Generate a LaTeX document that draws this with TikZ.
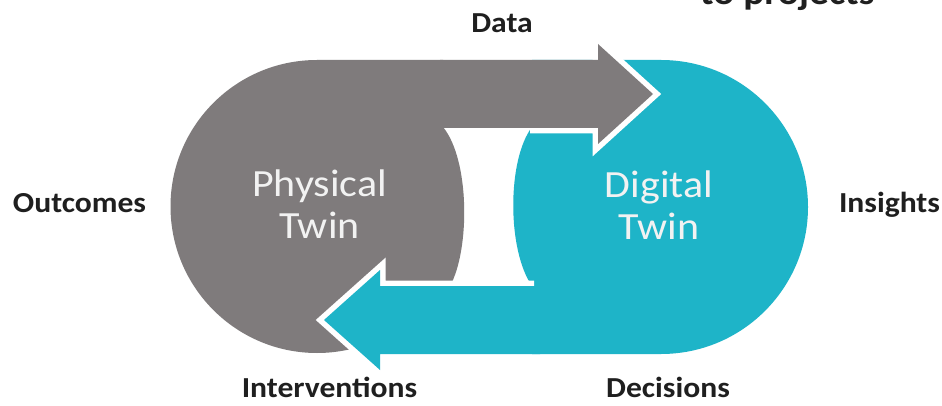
\documentclass[tikz,border=0pt]{standalone}
\usepackage{fontspec}
\setmainfont{Carlito}[FakeStretch=1.09]
\usetikzlibrary{positioning}
\definecolor{twingray}{RGB}{127,123,124}
\definecolor{twinteal}{RGB}{30,180,200}
\definecolor{twintext}{RGB}{242,242,242}

\begin{document}
\begin{tikzpicture}[x=1pt, y=-1pt,
  lbl/.style={font=\fontsize{29}{32}\selectfont\bfseries, text=black!88, inner sep=0pt, anchor=base},
  twin/.style={font=\fontsize{38.5}{42}\selectfont, text=twintext, align=center, inner sep=0pt},
  rim/.style={draw=white, line width=11pt, line join=miter}]
\useasboundingbox (0,0) rectangle (942,406);
\fill[white] (0,0) rectangle (942,406);
% the two bodies
\fill[twingray] (317,206.5) circle[radius=146.5];
\fill[twingray] (317,60) -- (443,60) -- (443,127) .. controls (470,160) and (470,250) .. (450,286) -- (317,286) -- cycle;
\fill[twinteal] (661,207) circle[radius=147];
\fill[twinteal] (661,60) -- (532,60) -- (532,127) .. controls (507,160) and (507,250) .. (532,286) -- (532,354) -- (661,354) -- cycle;
% data arrow
\draw[rim] (530,128) -- (598,128) -- (598,144) -- (653,94) -- (598,44) -- (598,60);
\fill[twingray] (440,60) -- (598,60) -- (598,44) -- (653,94) -- (598,144) -- (598,128) -- (440,128) -- cycle;
% decisions arrow
\draw[rim] (534,286) -- (380,286) -- (380,270) -- (324,320) -- (380,370) -- (380,354) -- (400,354);
\fill[twinteal] (540,286) -- (380,286) -- (380,270) -- (324,320) -- (380,370) -- (380,354) -- (540,354) -- cycle;
\node[twin] (physical) at (319.5,204) {Physical\\Twin};
\node[twin] (digital) at (659,205) {Digital\\Twin};
\node[lbl] (data) at (502,33) {Data};
\node[lbl] (outcomes) at (79.5,213) {Outcomes};
\node[lbl] (insights) at (889.5,213) {Insights};
\node[lbl] (interventions) at (329.5,397) {Interventions};
\node[lbl] (decisions) at (668,397) {Decisions};
\node[lbl, font=\fontsize{36}{40}\selectfont\bfseries, anchor=base west] (projects) at (700,5) {to projects};
\end{tikzpicture}
\end{document}
